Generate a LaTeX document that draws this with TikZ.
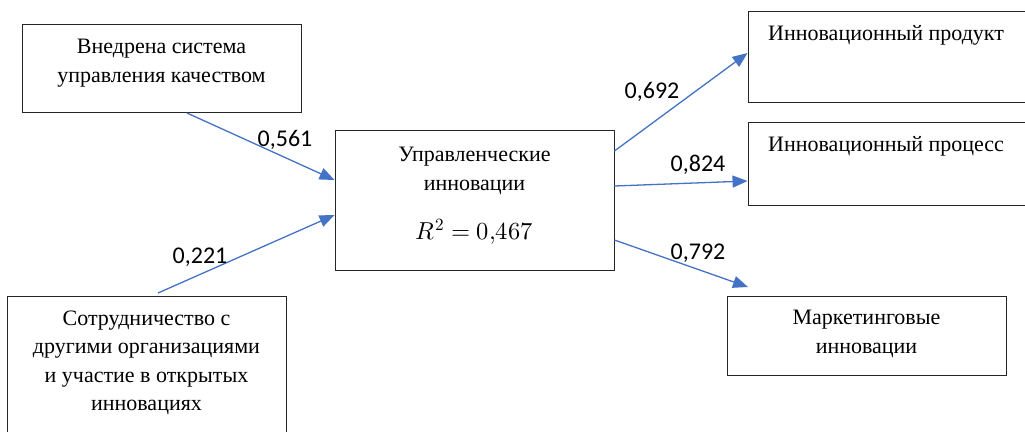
\documentclass[tikz,border=0pt]{standalone}
\usepackage{unicode-math}
\setmainfont{Liberation Serif}
\setmathfont{Latin Modern Math}
\newfontfamily\boxfont{Liberation Serif}
\newfontfamily\lblfont{Carlito}
\usetikzlibrary{arrows.meta}
\definecolor{arrowblue}{HTML}{4472C4}
\tikzset{
  box/.style={draw=black!85, line width=0.9pt, rectangle, inner sep=0pt},
  boxtext/.style={font=\boxfont\fontsize{22}{28.5}\selectfont, align=center, inner sep=0pt},
  conn/.style={draw=arrowblue, line width=1.3pt, -{Triangle[length=15pt,width=12pt]}},
  coef/.style={font=\lblfont\fontsize{24}{26}\selectfont, inner sep=0pt}
}
\begin{document}
\begin{tikzpicture}[x=1pt,y=-1pt]
\useasboundingbox (0,0) rectangle (1025,431);
\clip (0,0) rectangle (1025,431);
% boxes
\node[box, minimum width=279pt, minimum height=88pt] (a) at (161.5,68) {};
\node[box, minimum width=279pt, minimum height=150pt] (b) at (146.5,371) {};
\node[box, minimum width=279pt, minimum height=140pt] (c) at (474.5,200) {};
\node[box, minimum width=290pt, minimum height=91pt] (d) at (893,56.5) {};
\node[box, minimum width=290pt, minimum height=83pt] (e) at (893,163.5) {};
\node[box, minimum width=279pt, minimum height=79pt] (f) at (866.5,335.5) {};
% texts
\node[boxtext] (at) at (161.5,63) {Внедрена система\\управления качеством};
\node[boxtext] (bt) at (146.5,363) {Сотрудничество с\\другими организациями\\и участие в открытых\\инновациях};
\node[boxtext] (ct) at (474.5,171) {Управленческие\\инновации};
\node[boxtext, font=\boxfont\fontsize{24.5}{28}\selectfont] (cr) at (474.5,232) {$R^2 = 0{,}467$};
\node[boxtext, anchor=west] (dt) at (768,35) {Инновационный продукт};
\node[boxtext, anchor=west] (et) at (768,146) {Инновационный процесс};
\node[boxtext] (ft) at (866.5,334) {Маркетинговые\\инновации};
% connectors
\coordinate (a1) at (187,113);
\coordinate (b1) at (158,293);
\draw[conn] (a1) -- (c.west |- 0,180);
\draw[conn] (b1) -- (c.west |- 0,215);
\draw[conn] (c.east |- 0,151) -- (d.west |- 0,53);
\draw[conn] (c.east |- 0,186) -- (e.west |- 0,181);
\coordinate (f1) at (748,287);
\draw[conn] (c.east |- 0,240) -- (f1);
% labels
\node[coef] (l1) at (285,140) {0,561};
\node[coef] (l2) at (200,257) {0,221};
\node[coef] (l3) at (652,92) {0,692};
\node[coef] (l4) at (698,165) {0,824};
\node[coef] (l5) at (698,253) {0,792};
\end{tikzpicture}
\end{document}
